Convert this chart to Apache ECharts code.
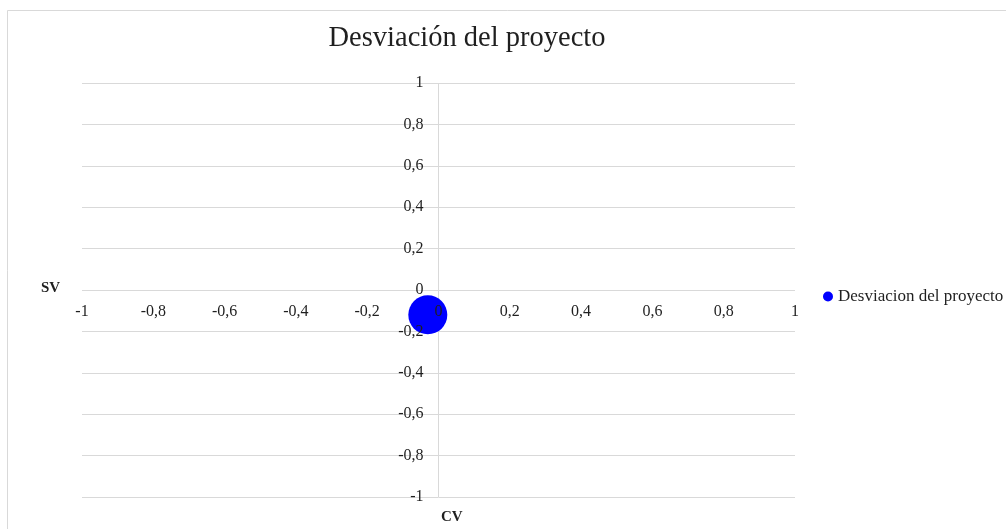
<!DOCTYPE html>
<html>
<head>
<meta charset="utf-8">
<script src="https://cdn.jsdelivr.net/npm/echarts@6/dist/echarts.min.js"></script>
<style>
  html, body { margin: 0; padding: 0; background: #fff; }
  #chart { width: 1006px; height: 529px; }
</style>
</head>
<body>
<div id="chart"></div>
<script>
// Project deviation: cost variance (CV) vs schedule variance (SV)
const chartTitle = 'Desviación del proyecto';
const seriesName = 'Desviacion del proyecto';
const xAxisName = 'CV';
const yAxisName = 'SV';
const cvValues = [-0.03];
const svValues = [-0.12];
const axisMin = -1;
const axisMax = 1;
const tickStep = 0.2;

const FONT = '"Liberation Serif", "DejaVu Serif", serif';
const GRID_COLOR = '#d9d9d9';
const TEXT_COLOR = '#1f1f1f';
const GRID = { left: 82, right: 211, top: 83, bottom: 32 };

function fmt(v) {
  const r = Math.round(v * 10) / 10;
  return String(r).replace('.', ',');
}

const points = cvValues.map((x, i) => [x, svValues[i]]);

const chart = echarts.init(document.getElementById('chart'), null, { renderer: 'canvas' });

chart.setOption({
  backgroundColor: '#ffffff',
  animation: false,
  title: {
    text: chartTitle,
    left: 462,
    top: 19,
    textAlign: 'center',
    textStyle: { fontFamily: FONT, fontSize: 28.5, fontWeight: 'normal', color: TEXT_COLOR }
  },
  legend: {
    data: [seriesName],
    left: 818,
    top: 283,
    icon: 'circle',
    itemWidth: 10,
    itemHeight: 10,
    textStyle: { fontFamily: FONT, fontSize: 17, color: TEXT_COLOR }
  },
  grid: GRID,
  xAxis: [
    {
      // labelled axis, shifted onto y = 0 below
      type: 'value',
      position: 'bottom',
      min: axisMin, max: axisMax, interval: tickStep,
      z: 3,
      axisLine: { show: false, onZero: false },
      axisTick: { show: false },
      splitLine: { show: false },
      axisLabel: { formatter: fmt, fontFamily: FONT, fontSize: 16, color: TEXT_COLOR, margin: 14 }
    },
    {
      // vertical line through x = 0
      type: 'value',
      position: 'top',
      min: axisMin, max: axisMax, interval: 1,
      z: 0,
      axisLine: { show: false, onZero: false },
      axisTick: { show: false },
      axisLabel: { show: false },
      splitLine: { show: true, showMinLine: false, showMaxLine: false, lineStyle: { color: GRID_COLOR, width: 1 } }
    }
  ],
  yAxis: [
    {
      // labelled axis, shifted onto x = 0 below
      type: 'value',
      position: 'left',
      min: axisMin, max: axisMax, interval: tickStep,
      z: 3,
      axisLine: { show: false, onZero: false },
      axisTick: { show: false },
      splitLine: { show: false },
      axisLabel: { formatter: fmt, fontFamily: FONT, fontSize: 16, color: TEXT_COLOR, margin: 15 }
    },
    {
      // horizontal gridlines
      type: 'value',
      position: 'right',
      min: axisMin, max: axisMax, interval: tickStep,
      z: 0,
      axisLine: { show: false, onZero: false },
      axisTick: { show: false },
      axisLabel: { show: false },
      splitLine: { show: true, lineStyle: { color: GRID_COLOR, width: 1 } }
    }
  ],
  graphic: [
    {
      type: 'rect',
      shape: { x: 7.5, y: 10.5, width: 1010, height: 600 },
      style: { fill: 'none', stroke: GRID_COLOR, lineWidth: 1 },
      silent: true
    },
    {
      type: 'text',
      left: 41, top: 281,
      style: { text: yAxisName, fontFamily: FONT, fontSize: 15, fontWeight: 'bold', fill: TEXT_COLOR }
    },
    {
      type: 'text',
      left: 441, top: 510,
      style: { text: xAxisName, fontFamily: FONT, fontSize: 15, fontWeight: 'bold', fill: TEXT_COLOR }
    }
  ],
  series: [
    {
      name: seriesName,
      type: 'scatter',
      xAxisIndex: 0,
      yAxisIndex: 0,
      z: 2,
      symbol: 'circle',
      symbolSize: 39,
      itemStyle: { color: '#0000ff', opacity: 1 },
      data: points
    }
  ]
});

// Move the labelled axes so they cross at the origin
const zeroX = chart.convertToPixel({ xAxisIndex: 0 }, 0);
const zeroY = chart.convertToPixel({ yAxisIndex: 0 }, 0);
const plotBottom = chart.getHeight() - GRID.bottom;
chart.setOption({
  xAxis: [{ offset: -(plotBottom - zeroY) }, {}],
  yAxis: [{ offset: -(zeroX - GRID.left) }, {}]
});
</script>
</body>
</html>
